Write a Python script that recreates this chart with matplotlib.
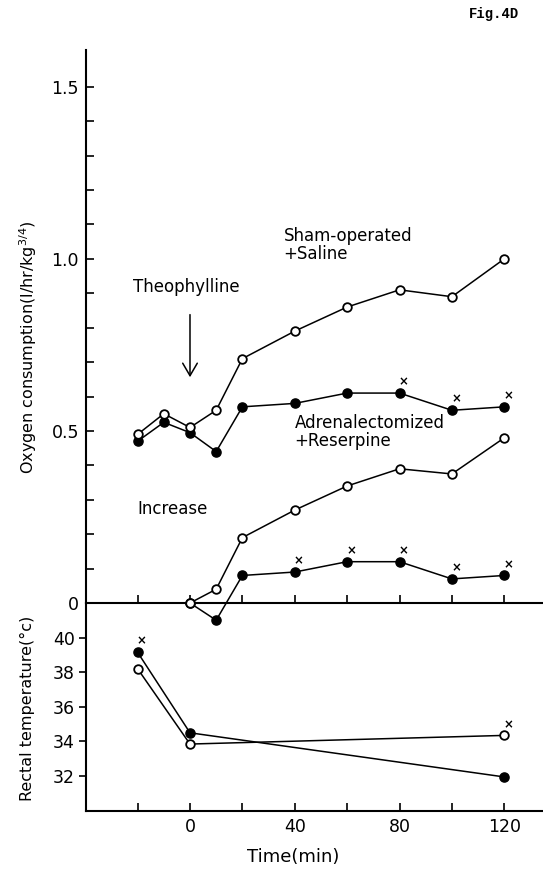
import matplotlib
matplotlib.use("Agg")
import matplotlib.pyplot as plt

# oxygen consumption (l/hr/kg^3/4)
time_o2 = [-20, -10, 0, 10, 20, 40, 60, 80, 100, 120]
sham_o2 = [0.49, 0.55, 0.51, 0.56, 0.71, 0.79, 0.86, 0.91, 0.89, 1.00]
adx_o2 = [0.47, 0.525, 0.495, 0.44, 0.57, 0.58, 0.61, 0.61, 0.56, 0.57]

# increase over the 0 min value
time_inc = [0, 10, 20, 40, 60, 80, 100, 120]
sham_inc = [0, 0.04, 0.19, 0.27, 0.34, 0.39, 0.375, 0.48]
adx_inc = [0, -0.05, 0.08, 0.09, 0.12, 0.12, 0.07, 0.08]

# rectal temperature (C)
time_temp = [-20, 0, 120]
sham_temp = [38.2, 33.85, 34.35]
adx_temp = [39.15, 34.5, 31.95]

# times marked with x (significant)
sig_adx_o2 = [80, 100, 120]
sig_adx_inc = [40, 60, 80, 100, 120]
sig_adx_temp = [-20]
sig_sham_temp = [120]

plt.rcParams["font.family"] = ["DejaVu Sans"]

fig = plt.figure(figsize=(5.43, 8.69), dpi=100)
ax1 = fig.add_axes([0.1584, 0.3061, 0.8398, 0.6364])
ax2 = fig.add_axes([0.1584, 0.0671, 0.8398, 0.2390])

xlim = (-39.7, 134.4)
lw = 1.1
open_style = dict(marker="o", markersize=6.2, markerfacecolor="white",
                  markeredgecolor="black", markeredgewidth=1.3, color="black", lw=lw)
fill_style = dict(marker="o", markersize=6.6, color="black", lw=lw)


def mark(ax, times, xs, ys):
    for t in times:
        y = ys[xs.index(t)]
        ax.annotate("×", (t, y), xytext=(3, 8), textcoords="offset points",
                    ha="center", va="center", fontsize=8.5, fontweight="bold",
                    annotation_clip=False)


# top panel
ax1.plot(time_o2, adx_o2, clip_on=False, zorder=3, **fill_style)
ax1.plot(time_o2, sham_o2, clip_on=False, zorder=4, **open_style)
ax1.plot(time_inc, adx_inc, clip_on=False, zorder=3, **fill_style)
ax1.plot(time_inc, sham_inc, clip_on=False, zorder=4, **open_style)
mark(ax1, sig_adx_o2, time_o2, adx_o2)
mark(ax1, sig_adx_inc, time_inc, adx_inc)

ax1.set_xlim(*xlim)
ax1.set_ylim(0, 1.607)
ax1.set_yticks([0, 0.5, 1.0, 1.5])
ax1.set_yticklabels(["0", "0.5", "1.0", "1.5"])
ax1.set_yticks([0.1 * i for i in range(1, 16)], minor=True)
ax1.set_xticks(range(-20, 121, 20))
ax1.set_xticklabels([])
ax1.tick_params(axis="y", which="both", direction="in", length=6, width=1.2,
                labelsize=12.5, pad=5)
ax1.tick_params(axis="x", direction="in", length=6, width=1.2)
for s in ["top", "right"]:
    ax1.spines[s].set_visible(False)
for s in ["left", "bottom"]:
    ax1.spines[s].set_linewidth(1.5)
ax1.patch.set_alpha(0)

ax1.text(35.7, 1.04, "Sham-operated\n+Saline", fontsize=12, ha="left", va="center",
         linespacing=0.95)
ax1.text(-21.7, 0.919, "Theophylline", fontsize=12, ha="left", va="center")
ax1.annotate("", xy=(0, 0.648), xytext=(0, 0.846),
             arrowprops=dict(arrowstyle="->, head_length=0.6, head_width=0.35",
                             mutation_scale=15, lw=1.1, color="black"))
ax1.text(39.9, 0.497, "Adrenalectomized\n+Reserpine", fontsize=12, ha="left",
         va="center", linespacing=0.95)
ax1.text(-20.2, 0.273, "Increase", fontsize=12, ha="left", va="center")

# bottom panel
ax2.plot(time_temp, adx_temp, zorder=3, **fill_style)
ax2.plot(time_temp, sham_temp, zorder=4, **open_style)
mark(ax2, sig_adx_temp, time_temp, adx_temp)
mark(ax2, sig_sham_temp, time_temp, sham_temp)

ax2.set_xlim(*xlim)
ax2.set_ylim(30, 42)
ax2.set_yticks([32, 34, 36, 38, 40])
ax2.set_xticks(range(-20, 121, 20))
ax2.set_xticklabels(["", "0", "", "40", "", "80", "", "120"])
ax2.tick_params(axis="y", direction="out", length=5, width=1.2, labelsize=12.5, pad=3)
ax2.tick_params(axis="x", direction="in", length=6, width=1.2, labelsize=12.5, pad=5)
for s in ["top", "right"]:
    ax2.spines[s].set_visible(False)
for s in ["left", "bottom"]:
    ax2.spines[s].set_linewidth(1.5)
ax2.patch.set_alpha(0)

fig.text(0.051, 1 - 347 / 869, "Oxygen consumption(l/hr/kg$^{3/4}$)", rotation=90,
         ha="center", va="center", fontsize=11.5)
fig.text(0.05, 1 - 708 / 869, "Rectal temperature(°c)", rotation=90,
         ha="center", va="center", fontsize=11.5)
fig.text(293 / 543, 1 - 857 / 869, "Time(min)", ha="center", va="center", fontsize=13)
fig.text(494 / 543, 1 - 14 / 869, "Fig.4D", ha="center", va="center", fontsize=10,
         family="Liberation Mono", fontweight="bold")

fig.savefig("out.png", dpi=100)
